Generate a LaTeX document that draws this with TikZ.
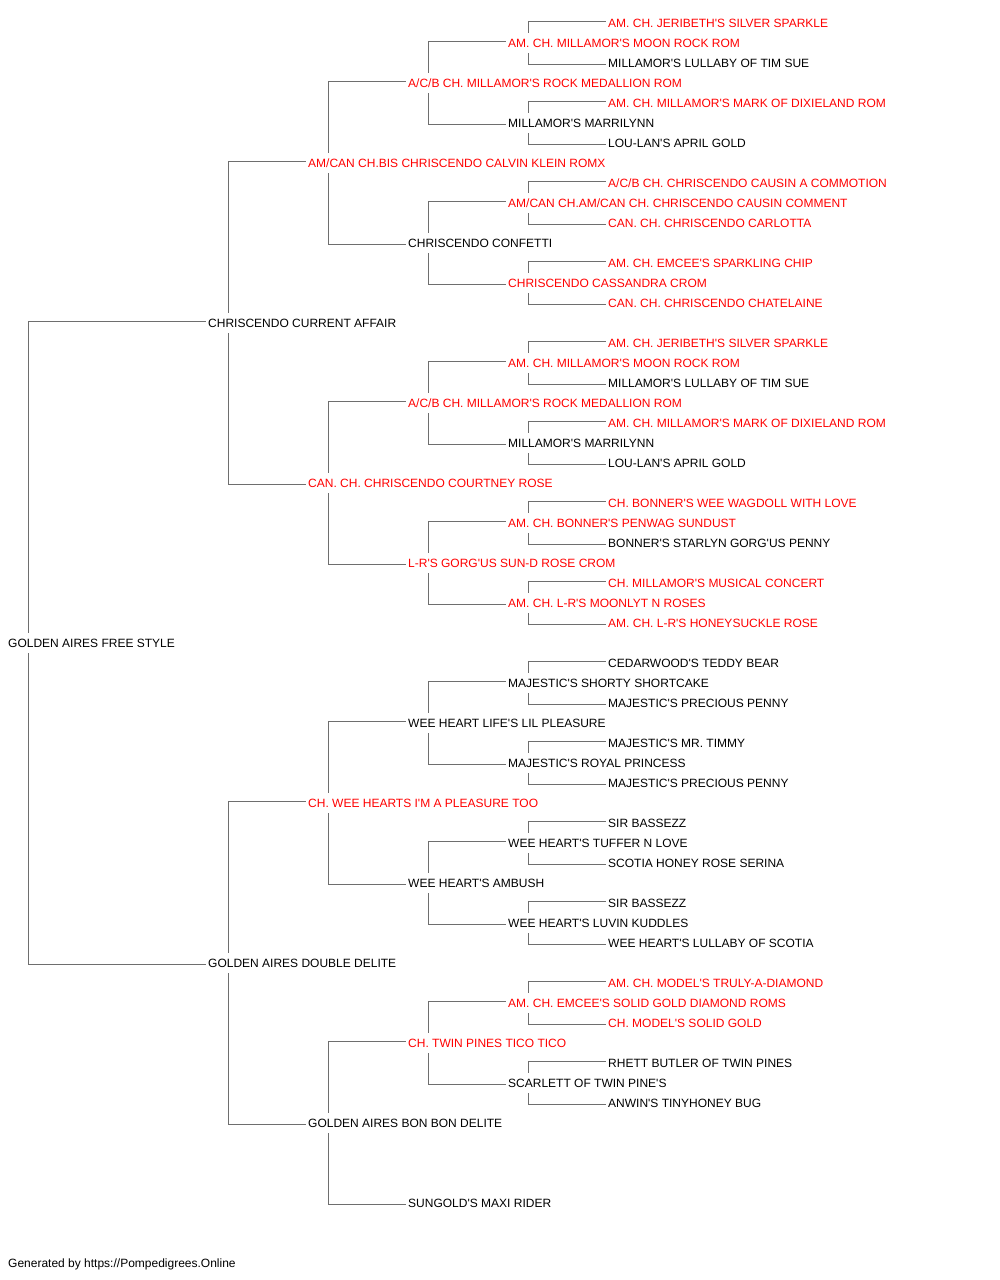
\documentclass[tikz,border=0pt]{standalone}
\usepackage{fontspec}
\setmainfont{Liberation Sans}
\definecolor{lnc}{RGB}{110,110,110}
\definecolor{chred}{RGB}{255,0,0}
\newcommand\ap{\textquotesingle}
\tikzset{
  dog/.style={anchor=west, inner xsep=0pt, inner ysep=0pt, text height=8.6pt, text depth=0pt,
    minimum height=20pt, font=\fontsize{12pt}{14pt}\selectfont, text=black},
  champ/.style={text=chred},
  conn/.style={draw=lnc, line width=1.6pt}
}
\newcommand\dog[4]{\node[dog,#4] (r#1) at (#2,{23+20*#1}) {#3};}
\newcommand\kids[3]{%
  \draw[conn] ([xshift=20.5pt]r#1.north west) |- ([xshift=-2pt,yshift=1.5pt]r#2.west);
  \draw[conn] ([xshift=20.5pt]r#1.south west) |- ([xshift=-2pt,yshift=-1.5pt]r#3.west);}
\begin{document}
\begin{tikzpicture}[x=1pt,y=-1pt]
\useasboundingbox (0,0) rectangle (1000,1280);
% generation 0
\dog{31}{8}{GOLDEN AIRES FREE STYLE}{}
% generation 1
\dog{15}{208}{CHRISCENDO CURRENT AFFAIR}{}
\dog{47}{208}{GOLDEN AIRES DOUBLE DELITE}{}
% generation 2
\dog{7}{308}{AM/CAN CH.BIS CHRISCENDO CALVIN KLEIN ROMX}{champ}
\dog{23}{308}{CAN. CH. CHRISCENDO COURTNEY ROSE}{champ}
\dog{39}{308}{CH. WEE HEARTS I\ap M A PLEASURE TOO}{champ}
\dog{55}{308}{GOLDEN AIRES BON BON DELITE}{}
% generation 3
\dog{3}{408}{A/C/B CH. MILLAMOR\ap S ROCK MEDALLION ROM}{champ}
\dog{11}{408}{CHRISCENDO CONFETTI}{}
\dog{19}{408}{A/C/B CH. MILLAMOR\ap S ROCK MEDALLION ROM}{champ}
\dog{27}{408}{L-R\ap S GORG\ap US SUN-D ROSE CROM}{champ}
\dog{35}{408}{WEE HEART LIFE\ap S LIL PLEASURE}{}
\dog{43}{408}{WEE HEART\ap S AMBUSH}{}
\dog{51}{408}{CH. TWIN PINES TICO TICO}{champ}
\dog{59}{408}{SUNGOLD\ap S MAXI RIDER}{}
% generation 4
\dog{1}{508}{AM. CH. MILLAMOR\ap S MOON ROCK ROM}{champ}
\dog{5}{508}{MILLAMOR\ap S MARRILYNN}{}
\dog{9}{508}{AM/CAN CH.AM/CAN CH. CHRISCENDO CAUSIN COMMENT}{champ}
\dog{13}{508}{CHRISCENDO CASSANDRA CROM}{champ}
\dog{17}{508}{AM. CH. MILLAMOR\ap S MOON ROCK ROM}{champ}
\dog{21}{508}{MILLAMOR\ap S MARRILYNN}{}
\dog{25}{508}{AM. CH. BONNER\ap S PENWAG SUNDUST}{champ}
\dog{29}{508}{AM. CH. L-R\ap S MOONLYT N ROSES}{champ}
\dog{33}{508}{MAJESTIC\ap S SHORTY SHORTCAKE}{}
\dog{37}{508}{MAJESTIC\ap S ROYAL PRINCESS}{}
\dog{41}{508}{WEE HEART\ap S TUFFER N LOVE}{}
\dog{45}{508}{WEE HEART\ap S LUVIN KUDDLES}{}
\dog{49}{508}{AM. CH. EMCEE\ap S SOLID GOLD DIAMOND ROMS}{champ}
\dog{53}{508}{SCARLETT OF TWIN PINE\ap S}{}
% generation 5
\dog{0}{608}{AM. CH. JERIBETH\ap S SILVER SPARKLE}{champ}
\dog{2}{608}{MILLAMOR\ap S LULLABY OF TIM SUE}{}
\dog{4}{608}{AM. CH. MILLAMOR\ap S MARK OF DIXIELAND ROM}{champ}
\dog{6}{608}{LOU-LAN\ap S APRIL GOLD}{}
\dog{8}{608}{A/C/B CH. CHRISCENDO CAUSIN A COMMOTION}{champ}
\dog{10}{608}{CAN. CH. CHRISCENDO CARLOTTA}{champ}
\dog{12}{608}{AM. CH. EMCEE\ap S SPARKLING CHIP}{champ}
\dog{14}{608}{CAN. CH. CHRISCENDO CHATELAINE}{champ}
\dog{16}{608}{AM. CH. JERIBETH\ap S SILVER SPARKLE}{champ}
\dog{18}{608}{MILLAMOR\ap S LULLABY OF TIM SUE}{}
\dog{20}{608}{AM. CH. MILLAMOR\ap S MARK OF DIXIELAND ROM}{champ}
\dog{22}{608}{LOU-LAN\ap S APRIL GOLD}{}
\dog{24}{608}{CH. BONNER\ap S WEE WAGDOLL WITH LOVE}{champ}
\dog{26}{608}{BONNER\ap S STARLYN GORG\ap US PENNY}{}
\dog{28}{608}{CH. MILLAMOR\ap S MUSICAL CONCERT}{champ}
\dog{30}{608}{AM. CH. L-R\ap S HONEYSUCKLE ROSE}{champ}
\dog{32}{608}{CEDARWOOD\ap S TEDDY BEAR}{}
\dog{34}{608}{MAJESTIC\ap S PRECIOUS PENNY}{}
\dog{36}{608}{MAJESTIC\ap S MR. TIMMY}{}
\dog{38}{608}{MAJESTIC\ap S PRECIOUS PENNY}{}
\dog{40}{608}{SIR BASSEZZ}{}
\dog{42}{608}{SCOTIA HONEY ROSE SERINA}{}
\dog{44}{608}{SIR BASSEZZ}{}
\dog{46}{608}{WEE HEART\ap S LULLABY OF SCOTIA}{}
\dog{48}{608}{AM. CH. MODEL\ap S TRULY-A-DIAMOND}{champ}
\dog{50}{608}{CH. MODEL\ap S SOLID GOLD}{champ}
\dog{52}{608}{RHETT BUTLER OF TWIN PINES}{}
\dog{54}{608}{ANWIN\ap S TINYHONEY BUG}{}
% footer
\dog{62}{8}{Generated by https://Pompedigrees.Online}{}
% connectors
\kids{31}{15}{47}
\kids{15}{7}{23}
\kids{47}{39}{55}
\kids{7}{3}{11}
\kids{23}{19}{27}
\kids{39}{35}{43}
\kids{55}{51}{59}
\kids{3}{1}{5}
\kids{11}{9}{13}
\kids{19}{17}{21}
\kids{27}{25}{29}
\kids{35}{33}{37}
\kids{43}{41}{45}
\kids{51}{49}{53}
\kids{1}{0}{2}
\kids{5}{4}{6}
\kids{9}{8}{10}
\kids{13}{12}{14}
\kids{17}{16}{18}
\kids{21}{20}{22}
\kids{25}{24}{26}
\kids{29}{28}{30}
\kids{33}{32}{34}
\kids{37}{36}{38}
\kids{41}{40}{42}
\kids{45}{44}{46}
\kids{49}{48}{50}
\kids{53}{52}{54}
\end{tikzpicture}
\end{document}
